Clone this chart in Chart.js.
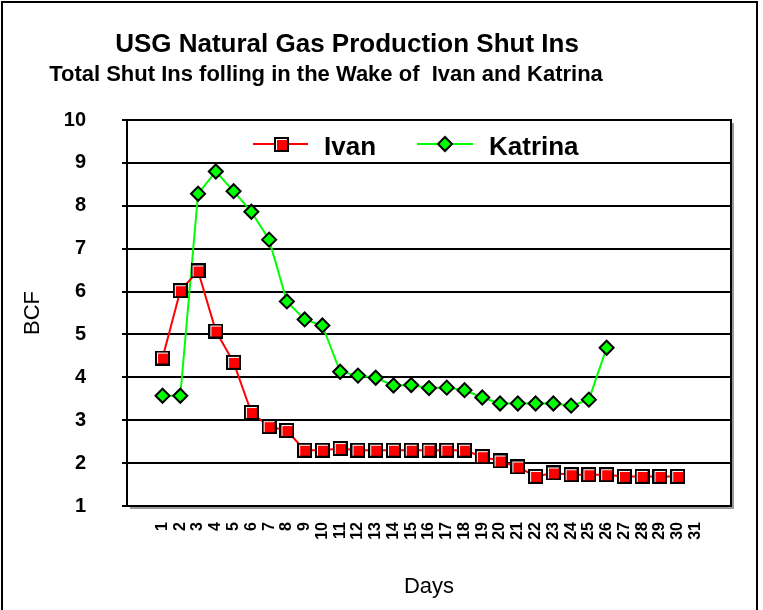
<!DOCTYPE html>
<html><head><meta charset="utf-8">
<script src="https://cdn.jsdelivr.net/npm/chart.js@4/dist/chart.umd.min.js"></script>
<style>html,body{margin:0;padding:0;background:#fff;overflow:hidden}#wrap{width:763px;height:610px}</style>
</head><body><div id="wrap"><canvas id="c" width="763" height="610"></canvas></div>
<script>
const days = [1,2,3,4,5,6,7,8,9,10,11,12,13,14,15,16,17,18,19,20,21,22,23,24,25,26,27,28,29,30,31];
const ivan = [4.45,6.02,6.48,5.08,4.35,3.18,2.85,2.76,2.3,2.3,2.34,2.3,2.3,2.3,2.3,2.3,2.3,2.3,2.15,2.05,1.91,1.69,1.77,1.73,1.73,1.73,1.69,1.69,1.69,1.69];
const katrina = [3.57,3.57,8.28,8.8,8.34,7.86,7.21,5.77,5.35,5.21,4.13,4.04,3.99,3.81,3.82,3.75,3.76,3.7,3.53,3.39,3.39,3.39,3.39,3.34,3.48,4.69];
const seriesNames = ['Ivan','Katrina'];
const yTicks = [1,2,3,4,5,6,7,8,9,10];
const titleText = 'USG Natural Gas Production Shut Ins';
const subtitleText = 'Total Shut Ins folling in the Wake of  Ivan and Katrina';
const xTitle = 'Days';
const yTitle = 'BCF';

const FONT = '"Liberation Sans", Arial, sans-serif';

function squareSprite() {
  const c = document.createElement('canvas');
  c.width = 15; c.height = 15;
  const g = c.getContext('2d');
  g.fillStyle = '#000'; g.fillRect(0, 0, 15, 15);
  g.fillStyle = '#FF0000'; g.fillRect(2, 2, 11, 11);
  g.fillStyle = '#FFFFFF'; g.fillRect(2, 2, 11, 1); g.fillRect(2, 2, 1, 11);
  return c;
}
const ivanMarker = squareSprite();

const decorPlugin = {
  id: 'decor',
  beforeDatasetsDraw(chart) {
    const {ctx, chartArea: a} = chart;
    ctx.save();
    ctx.strokeStyle = '#9a9a9a';
    ctx.lineWidth = 2;
    ctx.beginPath();
    ctx.moveTo(a.left + 3, a.bottom + 2);
    ctx.lineTo(a.right + 2, a.bottom + 2);
    ctx.lineTo(a.right + 2, a.top + 3);
    ctx.stroke();
    ctx.strokeStyle = '#000';
    ctx.lineWidth = 2;
    ctx.strokeRect(a.left, a.top, a.right - a.left, a.bottom - a.top);
    ctx.restore();
  },
  afterDraw(chart) {
    const {ctx} = chart;
    ctx.save();
    ctx.strokeStyle = '#000';
    ctx.lineWidth = 2;
    ctx.strokeRect(2, 2, 755, 640);
    ctx.fillStyle = '#000';
    ctx.textAlign = 'center';
    ctx.textBaseline = 'middle';
    ctx.font = 'bold 26px ' + FONT;
    ctx.fillText(titleText, 347, 45);
    ctx.font = 'bold 22px ' + FONT;
    ctx.fillText(subtitleText, 326, 75);
    const items = [
      {ds: chart.data.datasets[0], x0: 253, x1: 308, y: 144, tx: 324},
      {ds: chart.data.datasets[1], x0: 417, x1: 473, y: 144, tx: 489}
    ];
    items.forEach(it => {
      const ds = it.ds;
      ctx.strokeStyle = ds.borderColor;
      ctx.lineWidth = 2;
      ctx.beginPath();
      ctx.moveTo(it.x0, it.y); ctx.lineTo(it.x1, it.y); ctx.stroke();
      const cx = Math.round((it.x0 + it.x1) / 2), r = ds.pointRadius;
      if (ds.pointStyle instanceof HTMLCanvasElement) {
        const s = ds.pointStyle;
        ctx.drawImage(s, cx - Math.floor(s.width / 2), it.y - Math.floor(s.height / 2));
      } else {
        ctx.fillStyle = ds.pointBackgroundColor;
        ctx.strokeStyle = ds.pointBorderColor;
        ctx.lineWidth = ds.pointBorderWidth;
        ctx.beginPath();
        ctx.moveTo(cx - r, it.y); ctx.lineTo(cx, it.y - r); ctx.lineTo(cx + r, it.y); ctx.lineTo(cx, it.y + r); ctx.closePath();
        ctx.fill(); ctx.stroke();
      }
      ctx.fillStyle = '#000';
      ctx.textAlign = 'left';
      ctx.textBaseline = 'middle';
      ctx.font = 'bold 26px ' + FONT;
      ctx.fillText(ds.label, it.tx, it.y + 4);
    });
    ctx.restore();
  }
};

new Chart(document.getElementById('c'), {
  type: 'line',
  data: {
    labels: days,
    datasets: [
      {label: seriesNames[0], data: ivan, borderColor: '#FF0000', borderWidth: 2, pointStyle: ivanMarker, pointRadius: 8,
       pointBackgroundColor: '#FF0000', pointBorderColor: '#000000', pointBorderWidth: 2, tension: 0, fill: false},
      {label: seriesNames[1], data: katrina, borderColor: '#00FF00', borderWidth: 2, pointStyle: 'rectRot', pointRadius: 7,
       pointBackgroundColor: '#00FF00', pointBorderColor: '#000000', pointBorderWidth: 2, tension: 0, fill: false}
    ]
  },
  options: {
    responsive: false,
    animation: false,
    devicePixelRatio: 1,
    layout: {padding: {top: 120, right: 32, left: 0, bottom: 0}},
    plugins: {legend: {display: false}, tooltip: {enabled: false}, title: {display: false}},
    scales: {
      x: {
        type: 'linear', min: -1, max: 33,
        afterBuildTicks: s => { s.ticks = days.map(v => ({value: v})); },
        afterFit: s => { s.height = 104; },
        grid: {display: false, drawTicks: false},
        border: {display: true, color: '#000', width: 2},
        ticks: {autoSkip: false, minRotation: 90, maxRotation: 90, padding: 16, color: '#000',
                font: {family: FONT, size: 16, weight: 'bold'}, callback: v => String(v)},
        title: {display: true, text: xTitle, color: '#000', font: {family: FONT, size: 22}, padding: {top: 0, bottom: 10}}
      },
      y: {
        min: 1, max: 10,
        afterBuildTicks: s => { s.ticks = yTicks.map(v => ({value: v})); },
        afterFit: s => { s.width = 127; },
        grid: {color: '#000', lineWidth: 2, drawTicks: true, tickLength: 5},
        border: {display: true, color: '#000', width: 2},
        ticks: {padding: 36, color: '#000', font: {family: FONT, size: 20, weight: 'bold'}},
        title: {display: true, text: yTitle, color: '#000', font: {family: FONT, size: 22}, padding: {top: 20, bottom: 0}}
      }
    }
  },
  plugins: [decorPlugin]
});
</script></body></html>
